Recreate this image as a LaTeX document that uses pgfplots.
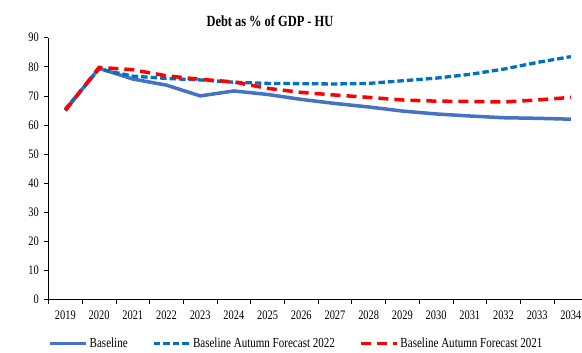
\documentclass[border=0pt]{standalone}
\usepackage{fontspec}
\setmainfont{Liberation Serif}[FakeStretch=0.8]
\usepackage{pgfplots}
\pgfplotsset{compat=1.18}
\usepackage{pgfplotstable}
\definecolor{cBase}{HTML}{4472C4}
\definecolor{cAF22}{HTML}{0070C0}
\definecolor{cAF21}{HTML}{FF0000}
\pgfplotstableread{
x base af22 af21
0 65.1 65.5 65.0
1 79.5 79.2 79.8
2 75.8 76.8 79.0
3 73.7 76.0 76.9
4 70.0 75.5 75.7
5 71.7 74.7 74.8
6 70.5 74.3 72.6
7 68.8 74.2 71.2
8 67.4 74.1 70.3
9 66.2 74.3 69.5
10 64.8 75.2 68.6
11 63.8 76.1 68.2
12 63.1 77.4 68.1
13 62.5 79.2 67.9
14 62.3 81.5 68.6
15 62.0 83.5 69.5
}\debt
\begin{document}
\begin{tikzpicture}
\begin{axis}[
  x=33.7bp, y=2.91bp,
  xmin=-0.5, xmax=15.33, ymin=0, ymax=90,
  axis lines*=left,
  axis line style={black, line width=0.8bp},
  clip=false,
  tick align=outside,
  major tick length=4bp,
  tick style={black, line width=0.8bp},
  xtick={-0.5,0.5,...,14.5},
  xticklabels={},
  extra x ticks={0,1,...,15},
  extra x tick labels={2019,2020,2021,2022,2023,2024,2025,2026,2027,2028,2029,2030,2031,2032,2033,2034},
  extra x tick style={major tick length=0bp, xticklabel style={anchor=north, inner sep=0bp, yshift=-11bp}},
  ytick={0,10,...,90},
  yticklabel style={anchor=east, inner sep=0bp, xshift=-5.5bp},
  tick label style={font=\fontsize{13bp}{15bp}\selectfont},
  /pgf/number format/assume math mode=true,
  legend columns=3,
  legend style={at={(axis description cs:0,-0.1669)}, anchor=west, draw=none, fill=none,
    inner sep=0bp, font=\fontsize{13.8bp}{15bp}\selectfont,
    nodes={inner xsep=1.5bp, inner ysep=0bp},
    /tikz/every even column/.append style={column sep=23bp}},
  legend image code/.code={\draw[#1] (0bp,0bp) -- (36bp,0bp);},
]
\addplot[cBase, line width=3.5bp] table[x=x, y=base] {\debt};
\addlegendentry{Baseline}
\addplot[cAF22, line width=3.3bp, dash pattern=on 6.5bp off 3bp] table[x=x, y=af22] {\debt};
\addlegendentry{Baseline Autumn Forecast 2022}
\addplot[cAF21, line width=3.5bp, dash pattern=on 10bp off 6bp] table[x=x, y=af21] {\debt};
\addlegendentry{Baseline Autumn Forecast 2021}
\node[font=\bfseries\fontsize{15.5bp}{17bp}\selectfont] at (axis cs:6.07,95.6) {Debt as \% of GDP - HU};
\coordinate (bbbl) at (axis cs:-1.939,-18.01);
\coordinate (bbtr) at (axis cs:15.33,102.96);
\end{axis}
\pgfresetboundingbox
\useasboundingbox (bbbl) rectangle (bbtr);
\end{tikzpicture}
\end{document}
